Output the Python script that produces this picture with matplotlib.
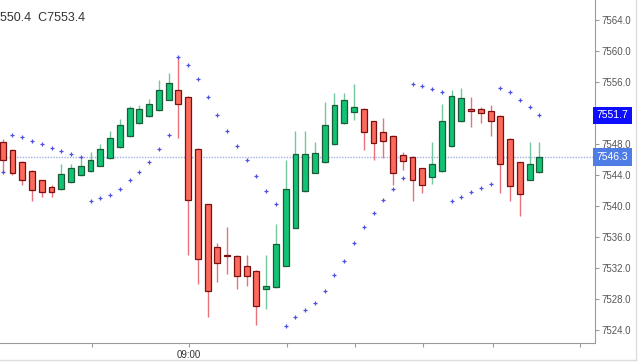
import numpy as np
import matplotlib
matplotlib.use("Agg")
import matplotlib.pyplot as plt
import matplotlib.transforms as mtransforms

plt.rcParams.update({
    "font.family": ["Liberation Sans", "DejaVu Sans"],
    "font.size": 7,
})

# ---- data ----
opens = [7548.3, 7547.2, 7545.6, 7544.5, 7543.3, 7542.4, 7542.2, 7543.1, 7544.0, 7544.5,
         7545.2, 7546.2, 7547.6, 7549.0, 7550.7, 7551.6, 7552.4, 7553.7, 7554.9, 7554.1,
         7547.4, 7540.25, 7534.7, 7533.7, 7533.5, 7532.3, 7531.6, 7529.35, 7529.5, 7532.3,
         7537.2, 7541.9, 7544.3, 7545.6, 7547.95, 7550.65, 7552.05, 7552.5, 7550.9, 7549.5,
         7549.0, 7546.6, 7546.3, 7544.85, 7543.7, 7544.5, 7547.7, 7550.9, 7552.5, 7552.5,
         7552.2, 7551.6, 7548.6, 7545.6, 7543.4, 7544.4]
highs = [7548.6, 7547.4, 7545.8, 7544.6, 7543.4, 7542.7, 7545.4, 7545.4, 7546.0, 7546.9,
         7548.0, 7549.7, 7551.2, 7552.9, 7553.0, 7553.8, 7556.2, 7557.1, 7559.2, 7554.2,
         7547.5, 7540.3, 7535.2, 7537.3, 7533.7, 7533.7, 7531.7, 7533.7, 7537.7, 7545.9,
         7549.7, 7549.7, 7548.2, 7553.4, 7554.6, 7554.6, 7555.7, 7552.6, 7551.0, 7551.3,
         7549.1, 7546.9, 7546.4, 7544.9, 7548.2, 7553.1, 7555.0, 7555.2, 7554.0, 7552.7,
         7553.0, 7551.7, 7548.7, 7545.7, 7548.2, 7548.2]
lows = [7544.4, 7544.0, 7542.7, 7540.7, 7541.1, 7541.1, 7542.1, 7543.0, 7543.9, 7544.4,
        7545.1, 7546.1, 7547.5, 7548.9, 7550.6, 7551.5, 7552.3, 7553.6, 7548.7, 7533.7,
        7530.0, 7525.65, 7530.2, 7531.2, 7529.3, 7529.7, 7524.65, 7526.7, 7529.4, 7532.2,
        7537.1, 7541.8, 7544.2, 7545.5, 7547.9, 7550.6, 7551.1, 7547.2, 7545.9, 7546.2,
        7542.7, 7544.6, 7540.7, 7541.7, 7542.8, 7544.4, 7547.6, 7550.8, 7550.2, 7550.65,
        7549.05, 7541.7, 7540.7, 7538.7, 7543.3, 7544.3]
closes = [7545.9, 7544.2, 7543.3, 7542.0, 7541.8, 7541.8, 7544.1, 7544.9, 7545.1, 7545.9,
          7547.4, 7548.8, 7550.4, 7552.6, 7552.5, 7553.1, 7555.0, 7555.9, 7553.2, 7540.8,
          7533.2, 7529.0, 7532.6, 7533.5, 7531.0, 7531.0, 7527.1, 7529.65, 7535.05, 7542.15,
          7546.7, 7546.7, 7546.8, 7550.4, 7553.05, 7553.65, 7552.8, 7549.5, 7548.1, 7548.4,
          7544.3, 7545.8, 7543.35, 7542.7, 7545.4, 7550.95, 7554.2, 7553.9, 7552.3, 7552.0,
          7550.9, 7545.4, 7542.6, 7541.5, 7545.4, 7546.3]
# parabolic SAR dots
sar = [7544.4, 7549.1, 7548.85, 7548.4, 7548.0, 7547.5, 7547.05, 7546.7, 7546.35, 7540.65,
       7541.0, 7541.4, 7542.2, 7543.3, 7544.4, 7545.65, 7547.4, 7549.15, 7559.15, 7558.15,
       7556.4, 7554.0, 7551.7, 7549.7, 7547.75, 7545.9, 7543.85, 7541.9, 7540.2, 7524.55,
       7525.65, 7526.55, 7527.5, 7529.05, 7531.15, 7532.95, 7535.2, 7537.3, 7539.15, 7540.75,
       7542.2, 7543.55, 7555.7, 7555.4, 7555.05, 7554.7, 7540.65, 7541.2, 7541.8, 7542.35,
       7542.85, 7555.15, 7554.65, 7553.6, 7552.75, 7551.7]
yticks = [7524.0, 7528.0, 7532.0, 7536.0, 7540.0, 7544.0, 7548.0, 7552.0, 7556.0, 7560.0, 7564.0]
hidden_ytick = 7552.0   # sits under the SAR value box
xtick_pos = [9.1, 19.1, 29.1, 36.1, 43.1, 50.2, 59.2]
xtick_labels = ["", "09:00", "", "", "", "", ""]
last_price = 7546.3
last_sar = 7551.7
header = "550.4  C7553.4"

opens = np.array(opens)
closes = np.array(closes)
highs = np.array(highs)
lows = np.array(lows)
x = np.arange(len(opens))
up = closes >= opens

fig = plt.figure(figsize=(6.4, 3.62), dpi=100)
ax = fig.add_axes([0, 19 / 362, 595 / 640, 343 / 362])

# wicks
ax.vlines(x[up], lows[up], highs[up], color="#74c79c", lw=1, zorder=2)
ax.vlines(x[~up], lows[~up], highs[~up], color="#e9727c", lw=1, zorder=2)

# bodies
bottoms = np.minimum(opens, closes)
heights = np.maximum(np.abs(closes - opens), 0.2)
ax.bar(x[up], heights[up], bottom=bottoms[up], width=0.6,
       color="#10c474", edgecolor="#1d5a38", lw=0.9, zorder=3)
ax.bar(x[~up], heights[~up], bottom=bottoms[~up], width=0.6,
       color="#fb6a5c", edgecolor="#7a1010", lw=0.9, zorder=3)

# parabolic SAR
ax.plot(x, sar, ls="none", marker="+", ms=3, mew=0.9, color="#5050e0", zorder=4)

# last price line
ax.axhline(last_price, color="#9fb3e3", lw=1, ls=(0, (1, 1)), zorder=1)

ax.set_xlim(-0.28, 60.7)
ax.set_ylim(7522.34, 7566.54)

for s in ["top", "left"]:
    ax.spines[s].set_visible(False)
for s in ["right", "bottom"]:
    ax.spines[s].set_color("#9a9a9a")

ax.yaxis.tick_right()
ax.set_yticks(yticks)
ax.set_yticklabels(["" if v == hidden_ytick else f"{v:.1f}" for v in yticks])
ax.tick_params(axis="y", length=3, color="#9a9a9a", labelcolor="#555555",
               labelsize=7, pad=2)
ax.set_xticks(xtick_pos)
ax.set_xticklabels(xtick_labels)
ax.tick_params(axis="x", length=3, color="#9a9a9a", labelcolor="#333333",
               labelsize=7, pad=2)

# value boxes on the price axis
trans = mtransforms.blended_transform_factory(ax.transAxes, ax.transData)
ax.text(1.003, last_sar, f"{last_sar:.1f}", transform=trans, ha="left", va="center",
        color="white", fontsize=7.5, clip_on=False, zorder=5,
        bbox=dict(boxstyle="square,pad=0.35", fc="#0d0dff", ec="none"))
ax.text(1.003, last_price, f"{last_price:.1f}", transform=trans, ha="left", va="center",
        color="white", fontsize=7.5, clip_on=False, zorder=5,
        bbox=dict(boxstyle="square,pad=0.35", fc="#4f7de6", ec="none"))

# header text (cut at the left edge)
fig.text(0.0, 1 - 18 / 362, header, ha="left", va="center", fontsize=9, color="#333333")

# outer frame lines
fig.add_artist(plt.Line2D([636 / 640, 636 / 640], [2 / 362, 1], color="#dddddd", lw=1))
fig.add_artist(plt.Line2D([0, 636 / 640], [2 / 362, 2 / 362], color="#dddddd", lw=1))

fig.savefig("out.png", dpi=100)
